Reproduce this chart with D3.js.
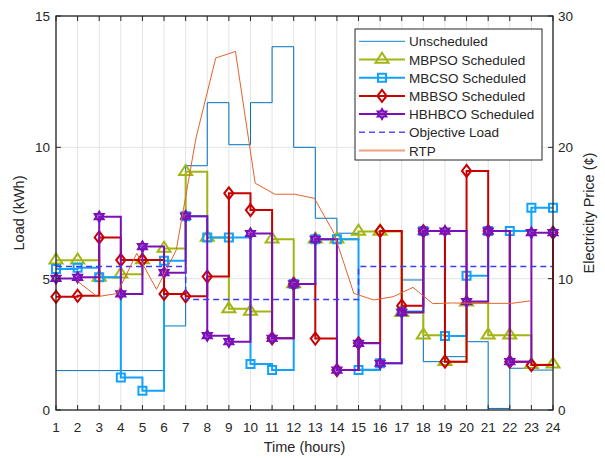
<!DOCTYPE html>
<html>
<head>
<meta charset="utf-8">
<script src="https://cdn.jsdelivr.net/npm/d3@7"></script>
<style>
  body { margin: 0; background: #fff; }
  svg text { font-family: "Liberation Sans", Arial, sans-serif; fill: #262626; }
</style>
</head>
<body>
<svg id="chart" width="605" height="458"></svg>
<script>
// chart data
var hours = [1,2,3,4,5,6,7,8,9,10,11,12,13,14,15,16,17,18,19,20,21,22,23,24];

var unscheduled = [1.5,1.5,1.5,1.5,1.5,3.2,9.3,11.7,10.1,11.7,13.83,10.0,7.3,6.73,1.55,1.78,4.95,1.84,2.03,2.6,0.06,1.59,1.52,1.52];
var mbpso  = [5.7,5.7,5.05,5.17,5.71,6.15,9.07,6.57,3.85,3.75,6.5,4.8,6.5,6.5,6.8,6.8,3.7,2.85,1.84,4.1,2.85,2.85,1.72,1.74];
var mbcso  = [5.37,5.42,5.05,1.24,0.73,5.68,7.38,6.57,6.57,1.75,1.52,4.8,6.5,6.5,1.52,1.78,3.75,6.81,2.82,5.11,6.81,6.81,7.7,7.7];
var mbbso  = [4.31,4.35,6.57,5.71,5.71,4.42,4.33,5.08,8.25,7.61,2.73,4.8,2.72,1.52,2.55,6.81,3.97,6.81,1.84,9.1,6.81,1.84,1.71,6.75];
var hbhbco = [5.01,5.05,7.36,4.42,6.22,5.23,7.38,2.83,2.6,6.72,2.73,4.8,6.5,1.52,2.54,1.78,3.72,6.81,6.81,4.13,6.81,1.84,6.75,6.75];
var objectiveLoad = [5.46,5.46,5.46,5.46,5.46,5.46,4.21,4.21,4.21,4.21,4.21,4.21,4.21,4.21,5.46,5.46,5.46,5.46,5.46,5.46,5.46,5.46,5.46,5.46];
var rtp = [9.8,8.63,8.87,11.93,9.19,12.19,20.7,26.8,27.3,17.27,16.43,16.43,16.12,13.45,8.88,8.38,8.63,9.34,8.1,8.15,8.12,8.12,8.12,8.32];

var loadTicks  = [0,5,10,15];
var priceTicks = [0,10,20,30];

var legendLabels = ["Unscheduled","MBPSO Scheduled","MBCSO Scheduled","MBBSO Scheduled","HBHBCO Scheduled","Objective Load","RTP"];

// layout
var margins = {top: 16, right: 52, bottom: 48, left: 56};
var width = 605, height = 458;
var plotW = width - margins.left - margins.right,
    plotH = height - margins.top - margins.bottom;

var svg = d3.select("#chart");
var g = svg.append("g").attr("transform", "translate(" + margins.left + "," + margins.top + ")");

var x = d3.scaleLinear().domain([1, 24]).range([0, plotW]);
var yL = d3.scaleLinear().domain([0, 15]).range([plotH, 0]);
var yR = d3.scaleLinear().domain([0, 30]).range([plotH, 0]);

// RTP samples are spread a little inside the hour range
var rtpPos = d3.scaleLinear().domain([0, rtp.length - 1]).range([2, 23]);

// grid
g.append("g").selectAll("line").data(hours).enter().append("line")
    .attr("x1", function(d) { return x(d); }).attr("x2", function(d) { return x(d); })
    .attr("y1", 0).attr("y2", plotH)
    .attr("stroke", "#e3e3e3").attr("stroke-width", 1);
g.append("g").selectAll("line").data(loadTicks).enter().append("line")
    .attr("x1", 0).attr("x2", plotW)
    .attr("y1", function(d) { return yL(d); }).attr("y2", function(d) { return yL(d); })
    .attr("stroke", "#e3e3e3").attr("stroke-width", 1);

// marker shapes
function hexagram(r) {
    var pts = [];
    for (var i = 0; i < 12; i++) {
        var a = -Math.PI / 2 + i * Math.PI / 6;
        var rr = (i % 2 === 0) ? r : r / Math.sqrt(3);
        pts.push([rr * Math.cos(a), rr * Math.sin(a)]);
    }
    return "M" + pts.map(function(p) { return p[0].toFixed(2) + "," + p[1].toFixed(2); }).join("L") + "Z";
}
var markerPaths = {
    triangle: "M0,-6.7L6.5,3.3L-6.5,3.3Z",
    square: "M-4,-4H4V4H-4Z",
    diamond: "M0,-6L4.6,0L0,6L-4.6,0Z",
    hexagram: hexagram(5)
};

var series = [
    {name: "unscheduled", values: unscheduled, color: "#0072bd", width: 1, marker: null},
    {name: "mbpso", values: mbpso, color: "#a3b512", width: 2, marker: "triangle"},
    {name: "mbcso", values: mbcso, color: "#12a2fb", width: 2, marker: "square"},
    {name: "mbbso", values: mbbso, color: "#c80000", width: 2, marker: "diamond"},
    {name: "hbhbco", values: hbhbco, color: "#7c10b8", width: 2, marker: "hexagram"},
    {name: "objective", values: objectiveLoad, color: "#3c3cf5", width: 1.5, marker: null, dash: "6,4"}
];

var stairs = d3.line()
    .x(function(d, i) { return x(hours[i]); })
    .y(function(d) { return yL(d); })
    .curve(d3.curveStepAfter);

var plot = g.append("g");

series.forEach(function(s) {
    var sg = plot.append("g").attr("class", s.name);
    sg.append("path")
        .attr("d", stairs(s.values))
        .attr("fill", "none")
        .attr("stroke", s.color)
        .attr("stroke-width", s.width)
        .attr("stroke-dasharray", s.dash || null);
    if (s.marker) {
        sg.selectAll("path.mk").data(s.values).enter().append("path")
            .attr("class", "mk")
            .attr("d", markerPaths[s.marker])
            .attr("transform", function(d, i) { return "translate(" + x(hours[i]) + "," + yL(d) + ")"; })
            .attr("fill", s.marker === "hexagram" ? s.color : "none")
            .attr("fill-opacity", s.marker === "hexagram" ? 0.55 : null)
            .attr("stroke", s.color)
            .attr("stroke-width", s.marker === "hexagram" ? 2.2 : 2);
    }
});

// RTP on right axis
var rtpLine = d3.line()
    .x(function(d, i) { return x(rtpPos(i)); })
    .y(function(d) { return yR(d); });
plot.append("path")
    .attr("d", rtpLine(rtp))
    .attr("fill", "none")
    .attr("stroke", "#e4622c")
    .attr("stroke-width", 1);

// axes box
var axisColor = "#262626";
g.append("rect").attr("x", 0).attr("y", 0).attr("width", plotW).attr("height", plotH)
    .attr("fill", "none").attr("stroke", axisColor).attr("stroke-width", 1.3);

// x ticks (bottom + top, inward)
var xt = g.append("g");
hours.forEach(function(h) {
    xt.append("line").attr("x1", x(h)).attr("x2", x(h)).attr("y1", plotH).attr("y2", plotH - 5)
        .attr("stroke", axisColor);
    xt.append("line").attr("x1", x(h)).attr("x2", x(h)).attr("y1", 0).attr("y2", 5)
        .attr("stroke", axisColor);
    xt.append("text").attr("x", x(h)).attr("y", plotH + 22)
        .attr("text-anchor", "middle").style("font-size", "13.5px").text(h);
});

// left ticks
loadTicks.forEach(function(t) {
    g.append("line").attr("x1", 0).attr("x2", 5).attr("y1", yL(t)).attr("y2", yL(t)).attr("stroke", axisColor);
    g.append("text").attr("x", -6).attr("y", yL(t) + 5)
        .attr("text-anchor", "end").style("font-size", "13.5px").text(t);
});

// right ticks
priceTicks.forEach(function(t) {
    g.append("line").attr("x1", plotW).attr("x2", plotW - 5).attr("y1", yR(t)).attr("y2", yR(t)).attr("stroke", axisColor);
    g.append("text").attr("x", plotW + 5).attr("y", yR(t) + 5)
        .attr("text-anchor", "start").style("font-size", "13.5px").text(t);
});

// axis labels
svg.append("text").attr("x", margins.left + plotW / 2).attr("y", 452)
    .attr("text-anchor", "middle").style("font-size", "14.5px").text("Time (hours)");
svg.append("text").attr("transform", "translate(24," + (margins.top + plotH / 2) + ") rotate(-90)")
    .attr("text-anchor", "middle").style("font-size", "14.5px").text("Load (kWh)");
svg.append("text").attr("transform", "translate(594," + (margins.top + plotH / 2) + ") rotate(-90)")
    .attr("text-anchor", "middle").style("font-size", "14.5px").text("Electricity Price (\u00A2)");

// legend
var legend = svg.append("g").attr("transform", "translate(355,29)");
legend.append("rect").attr("width", 187).attr("height", 131)
    .attr("fill", "#fff").attr("stroke", axisColor).attr("stroke-width", 1);

var legendItems = series.slice(0, 6).concat([{name: "rtp", color: "#f0a080", width: 2, marker: null}]);
var legendColors = ["#0a85d0", "#a3b512", "#12a2fb", "#c80000", "#7c10b8", "#5050ff", "#eea080"];

legendItems.forEach(function(s, i) {
    var ly = 12.3 + i * 18.2;
    legend.append("line").attr("x1", 4).attr("x2", 50).attr("y1", ly).attr("y2", ly)
        .attr("stroke", legendColors[i])
        .attr("stroke-width", s.width)
        .attr("stroke-dasharray", s.dash || null);
    if (s.marker) {
        legend.append("path").attr("d", markerPaths[s.marker])
            .attr("transform", "translate(27," + ly + ")")
            .attr("fill", s.marker === "hexagram" ? s.color : "none")
            .attr("fill-opacity", s.marker === "hexagram" ? 0.55 : null)
            .attr("stroke", s.color).attr("stroke-width", 2);
    }
    legend.append("text").attr("x", 54).attr("y", ly + 5)
        .style("font-size", "13.5px").text(legendLabels[i]);
});
</script>
</body>
</html>
